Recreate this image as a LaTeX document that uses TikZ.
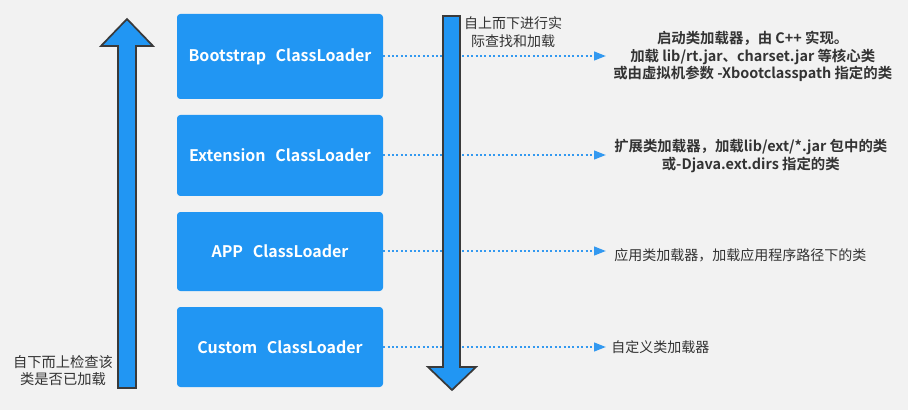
\documentclass[tikz,border=0pt]{standalone}
\usepackage{fontspec}
\setmainfont{Noto Sans CJK SC}
\newfontfamily\cjkb{Noto Sans CJK SC Bold}
\usetikzlibrary{arrows.meta}
\definecolor{bg}{HTML}{F2F2F2}
\definecolor{boxblue}{HTML}{2196F3}
\definecolor{dotblue}{HTML}{3399F0}
\definecolor{txt}{HTML}{333333}
\definecolor{edge}{HTML}{3A3A3A}
\newcommand{\gapsp}{\hspace{0.6em}}
\tikzset{
  loader/.style={fill=boxblue, rounded corners=2.5pt, minimum width=206*0.75pt, text=white, font=\cjkb\fontsize{12pt}{14pt}\selectfont, inner sep=0pt},
  fatarrow/.style={fill=boxblue, draw=edge, line width=1.3pt, line join=miter},
  dotlink/.style={draw=dotblue, line width=1.6pt, dash pattern=on 1.5pt off 1.8pt, -{Triangle[length=9pt,width=6.5pt]}},
  note/.style={text=txt, align=center, font=\fontsize{10.5pt}{12.75pt}\selectfont, inner sep=0pt},
  noteb/.style={note, font=\cjkb\fontsize{10.8pt}{12.9pt}\selectfont},
}
\begin{document}
\begin{tikzpicture}[x=0.75pt,y=-0.75pt]
\fill[bg] (0,0) rectangle (908,410);
\useasboundingbox (0,0) rectangle (908,410);
% boxes
\node[loader, minimum height=85*0.75pt] (boot) at (280,56.5) {Bootstrap\gapsp ClassLoader};
\node[loader, minimum height=81*0.75pt] (ext) at (280,155.5) {Extension\gapsp ClassLoader};
\node[loader, minimum height=79*0.75pt] (app) at (280,251.5) {APP\gapsp ClassLoader};
\node[loader, minimum height=80*0.75pt] (cus) at (280,347) {Custom\gapsp ClassLoader};
% notes
\node[noteb, anchor=west] (n1) at (613,56.5) {启动类加载器，由 C++ 实现。\\加载 lib/rt.jar、charset.jar 等核心类\\或由虚拟机参数 -Xbootclasspath 指定的类};
\node[noteb, anchor=west] (n2) at (614,156) {扩展类加载器，加载lib/ext/*.jar 包中的类\\或-Djava.ext.dirs 指定的类};
\node[note, anchor=west] (n3) at (614,255) {应用类加载器，加载应用程序路径下的类};
\node[note, anchor=west] (n4) at (611,347) {自定义类加载器};
% dotted links
\coordinate (e1) at (606,56);
\coordinate (e2) at (606,155);
\coordinate (e3) at (606,251);
\coordinate (e4) at (606,347);
\draw[dotlink] (boot.east |- e1) -- (e1);
\draw[dotlink] (ext.east |- e2) -- (e2);
\draw[dotlink] (app.east |- e3) -- (e3);
\draw[dotlink] (cus.east |- e4) -- (e4);
% up arrow
\draw[fatarrow] (118,388) -- (118,46) -- (101,46) -- (127,19) -- (153,46) -- (136,46) -- (136,388) -- cycle;
\node[note, font=\fontsize{10.7pt}{12.75pt}\selectfont] (upt) at (63,370.5) {自下而上检查该\\类是否已加载};
% down arrow
\draw[fatarrow] (443,16) -- (460,16) -- (460,367) -- (476,367) -- (452,390) -- (428,367) -- (443,367) -- cycle;
\node[note, font=\fontsize{10.5pt}{13.5pt}\selectfont] (dnt) at (513,32) {自上而下进行实\\际查找和加载};
\end{tikzpicture}
\end{document}
